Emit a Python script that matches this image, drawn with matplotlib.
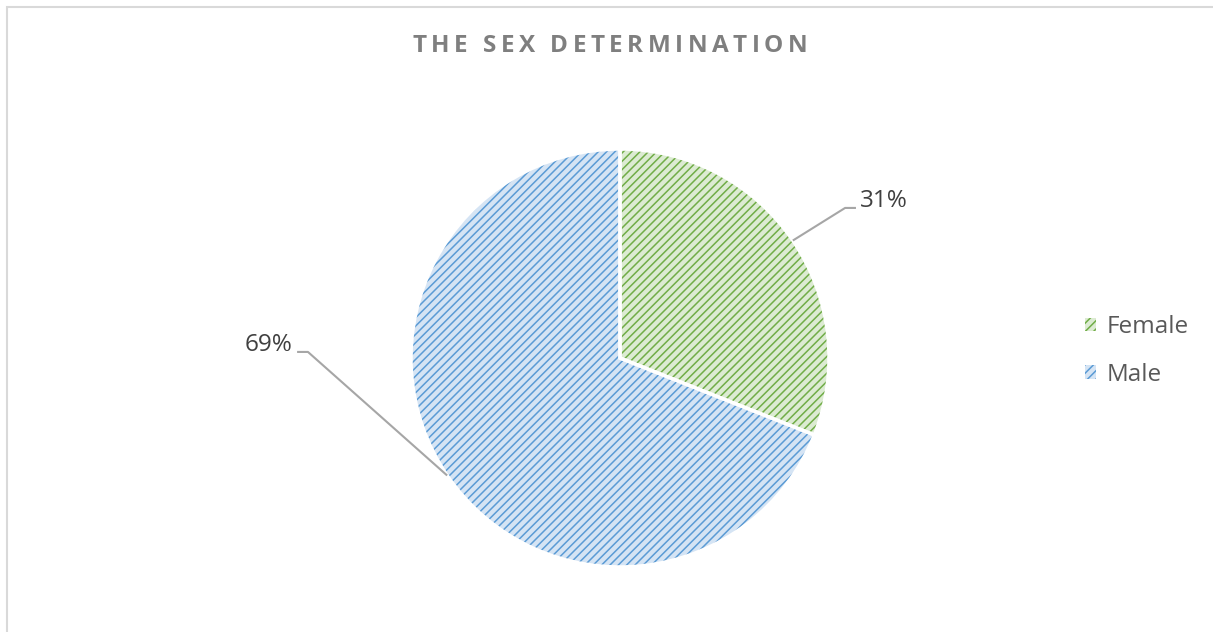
import numpy as np
import matplotlib.pyplot as plt
from matplotlib.patches import Patch, Rectangle

# data
categories = ["Female", "Male"]
values = [31, 69]
title = "THE SEX DETERMINATION"

fill_colors = ["#dcebd2", "#d5e4f4"]
hatch_colors = ["#70ad47", "#5b9bd5"]

plt.rcParams['font.family'] = ['Open Sans', 'DejaVu Sans']
plt.rcParams['hatch.linewidth'] = 1.1

W, H = 1213, 632
fig = plt.figure(figsize=(W / 100, H / 100), dpi=100)

# pie centre and radius in pixels -> axes covering whole figure, 1 data unit = radius
cx, cy, r = 620, 358, 209
ax = fig.add_axes([0, 0, 1, 1])

# base fill
wedges, _ = ax.pie(values, colors=fill_colors, startangle=90, counterclock=False,
                   radius=1, wedgeprops=dict(linewidth=0))
# hatch layer
hw, _ = ax.pie(values, colors=["none", "none"], startangle=90, counterclock=False, radius=1,
               wedgeprops=dict(linewidth=0))
for w, hc in zip(hw, hatch_colors):
    w.set_facecolor("none")
    w.set_edgecolor(hc)
    w.set_hatch("////")
# white separators
ow, _ = ax.pie(values, colors=["none", "none"], startangle=90, counterclock=False, radius=1,
               wedgeprops=dict(linewidth=2.5, edgecolor="white", fill=False))

ax.set_aspect("auto")
ax.set_xlim(-cx / r, (W - cx) / r)
ax.set_ylim(-(H - cy) / r, cy / r)
ax.axis("off")

# data labels with leader lines
total = sum(values)
label_pos = [((1.077, 0.718), (1.129, 0.718), (1.146, 0.75), "left"),
             ((-1.493, 0.029), (-1.545, 0.029), (-1.567, 0.062), "right")]
for w, v, (elbow, end, tpos, ha) in zip(wedges, values, label_pos):
    ang = np.deg2rad((w.theta1 + w.theta2) / 2)
    px, py = np.cos(ang), np.sin(ang)
    ax.plot([px, elbow[0], end[0]], [py, elbow[1], end[1]], color="#a6a6a6", lw=1.5,
            solid_capstyle="butt")
    ax.text(tpos[0], tpos[1], f"{round(v / total * 100)}%", ha=ha, va="center",
            fontsize=17.5, color="#404040")

# legend
handles = [Patch(facecolor=fc, edgecolor=hc, hatch="////", linewidth=0)
           for fc, hc in zip(fill_colors, hatch_colors)]
leg = fig.legend(handles, categories, loc="center left", bbox_to_anchor=(1063 / W, 1 - 351 / H),
                 frameon=False, fontsize=17.5, labelspacing=0.95, handlelength=0.47,
                 handleheight=0.47, handletextpad=0.42, labelcolor="#595959")

# letter-spaced title
fig.canvas.draw()
renderer = fig.canvas.get_renderer()
tkw = dict(fontsize=17.5, fontweight="bold", color="#7f7f7f")


def char_width(ch):
    if ch == " ":
        a = fig.text(0, 0, "x x", **tkw)
        b = fig.text(0, 0, "xx", **tkw)
        wd = a.get_window_extent(renderer).width - b.get_window_extent(renderer).width
        a.remove()
        b.remove()
        return wd
    t = fig.text(0, 0, ch, **tkw)
    wd = t.get_window_extent(renderer).width
    t.remove()
    return wd


widths = [char_width(c) for c in title]
target = 807 - 412
tracking = (target - sum(widths)) / (len(title) - 1)
x = 610 - target / 2
for c, wd in zip(title, widths):
    fig.text(x / W, 1 - 46 / H, c, ha="left", va="center", **tkw)
    x += wd + tracking

# chart border
fig.patches.append(Rectangle((6.5 / W, -0.1), 1.2, 1 - 6.5 / H + 0.1, transform=fig.transFigure,
                             fill=False, edgecolor="#d9d9d9", linewidth=1.5))

fig.savefig("out.png", dpi=100)
